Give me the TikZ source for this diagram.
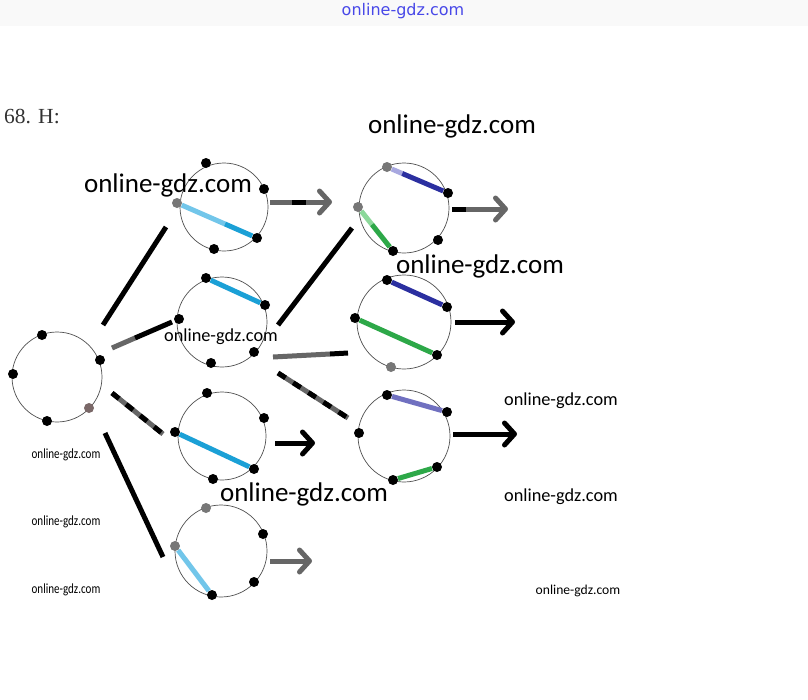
\documentclass[tikz,border=0pt]{standalone}
\usepackage{fontspec}
\setmainfont{Carlito}
\newfontfamily\serifcyr{Liberation Serif}
\newfontfamily\widesans{DejaVu Sans}
\usetikzlibrary{arrows.meta,calc}
\definecolor{ringc}{HTML}{505050}
\definecolor{dotgray}{HTML}{777777}
\definecolor{dotbrown}{HTML}{7A6868}
\definecolor{skyb}{HTML}{72C6EA}
\definecolor{cyanb}{HTML}{1BA0D6}
\definecolor{navyb}{HTML}{2B2FA0}
\definecolor{navyl}{HTML}{7070C0}
\definecolor{lavb}{HTML}{A8A8E0}
\definecolor{greenc}{HTML}{2DA848}
\definecolor{greenl}{HTML}{8CD89A}
\definecolor{linkgray}{HTML}{666666}
\definecolor{wmblue}{HTML}{4848E8}
\definecolor{bandc}{HTML}{F9F9F9}
\begin{document}
\begin{tikzpicture}[x=1pt,y=-1pt,
 ring/.style={circle,draw=ringc,line width=0.7pt,minimum size=#1,inner sep=0pt},
 ring/.default=90pt,
 bdot/.style={circle,fill=black,minimum size=10pt,inner sep=0pt},
 gdot/.style={circle,fill=dotgray,minimum size=10pt,inner sep=0pt},
 brdot/.style={circle,fill=dotbrown,minimum size=10pt,inner sep=0pt},
 chord/.style={line width=5pt,draw=#1},
 link/.style={line width=5pt,draw=black},
 glink/.style={line width=5pt,draw=linkgray},
 dlink/.style={line width=5pt,draw=black,dash pattern=on 9pt off 9pt},
 arr/.style={line width=5pt,line join=round,-{Straight Barb[length=10pt,width=22pt,round]}},
 wm/.style={font=\fontsize{#1}{#1}\selectfont,inner sep=0pt,text=black},
]
\useasboundingbox (0,0) rectangle (808,699);
\fill[white] (0,0) rectangle (808,699);
\fill[bandc] (0,0) rectangle (808,26);

% rings
\node[ring=90pt] (L0) at (57,377) {};
\node[ring=88pt] (A1) at (224,207) {};
\node[ring=90pt] (A2) at (222,322) {};
\node[ring=88pt] (A3) at (222,436) {};
\node[ring=92pt] (A4) at (221,551) {};
\node[ring=90pt] (B1) at (404,208) {};
\node[ring=94pt] (B2) at (404,322) {};
\node[ring=92pt] (B3) at (404,436) {};

% connector end points
\coordinate (l1s) at (103,325); \coordinate (l1e) at (166,227);
\coordinate (l2s) at (112,348); \coordinate (l2m) at (135,338); \coordinate (l2e) at (172,322);
\coordinate (l3s) at (112,393); \coordinate (l3e) at (163,434);
\coordinate (l4s) at (105,433); \coordinate (l4e) at (163,557);
\coordinate (m1s) at (278,325); \coordinate (m1e) at (352,228);
\coordinate (m2s) at (273,357); \coordinate (m2m) at (330,354); \coordinate (m2e) at (348,353);
\coordinate (m3s) at (278,373); \coordinate (m3e) at (348,418);

\draw[link] (l1s) -- (l1e);
\draw[glink] (l2s) -- (l2m);
\draw[link] (l2m) -- (l2e);
\draw[glink] (l3s) -- (l3e);
\draw[dlink] (l3s) -- (l3e);
\draw[link] (l4s) -- (l4e);
\draw[link] (m1s) -- (m1e);
\draw[glink] (m2s) -- (m2m);
\draw[link] (m2m) -- (m2e);
\draw[glink] (m3s) -- (m3e);
\draw[dlink] (m3s) -- (m3e);

% output arrows
\coordinate (a1s) at (270,202); \coordinate (a1e) at (332,202);
\coordinate (a3s) at (275,443); \coordinate (a3e) at (315,443);
\coordinate (a4s) at (270,561); \coordinate (a4e) at (312,561);
\coordinate (b1s) at (452,209); \coordinate (b1e) at (508,209);
\coordinate (b2s) at (455,322); \coordinate (b2e) at (515,322);
\coordinate (b3s) at (453,434); \coordinate (b3e) at (517,434);
\draw[arr,draw=linkgray] (a1s) -- (a1e);
\draw[line width=5pt,black] (292,202) -- (306,202);
\draw[arr,draw=black] (a3s) -- (a3e);
\draw[arr,draw=linkgray] (a4s) -- (a4e);
\draw[arr,draw=linkgray] (b1s) -- (b1e);
\draw[line width=5pt,black] (b1s) -- (466,209);
\draw[arr,draw=black] (b2s) -- (b2e);
\draw[arr,draw=black] (b3s) -- (b3e);

% L0 dots
\node[bdot] (L0a) at (42,335) {};
\node[bdot] (L0b) at (13,374) {};
\node[bdot] (L0c) at (100,360) {};
\node[brdot] (L0d) at (89,408) {};
\node[bdot] (L0e) at (47,421) {};

% A1
\node[bdot] (A1a) at (206,163) {};
\node[bdot] (A1b) at (264,189) {};
\node[gdot] (A1c) at (177,203) {};
\node[bdot] (A1d) at (257,238) {};
\node[bdot] (A1e) at (214,249) {};
\coordinate (A1m) at ($(A1c)!0.6!(A1d)$);
\draw[chord=skyb] (A1c) -- (A1m);
\draw[chord=cyanb] (A1m) -- (A1d);

% A2
\node[bdot] (A2a) at (206,278) {};
\node[bdot] (A2b) at (265,305) {};
\node[bdot] (A2c) at (179,319) {};
\node[bdot] (A2d) at (254,352) {};
\node[bdot] (A2e) at (211,363) {};
\draw[chord=cyanb] (A2a) -- (A2b);

% A3
\node[bdot] (A3a) at (207,393) {};
\node[bdot] (A3b) at (264,418) {};
\node[bdot] (A3c) at (175,432) {};
\node[bdot] (A3d) at (254,469) {};
\node[bdot] (A3e) at (213,479) {};
\draw[chord=cyanb] (A3c) -- (A3d);

% A4
\node[gdot] (A4a) at (206,508) {};
\node[bdot] (A4b) at (263,534) {};
\node[gdot] (A4c) at (175,546) {};
\node[bdot] (A4d) at (254,582) {};
\node[bdot] (A4e) at (212,595) {};
\draw[chord=skyb] (A4c) -- (A4e);

% B1
\node[gdot] (B1a) at (387,167) {};
\node[bdot] (B1b) at (448,193) {};
\node[gdot] (B1c) at (358,207) {};
\node[bdot] (B1d) at (393,251) {};
\node[bdot] (B1e) at (438,240) {};
\coordinate (B1m) at ($(B1a)!0.25!(B1b)$);
\coordinate (B1n) at ($(B1c)!0.4!(B1d)$);
\draw[chord=lavb] (B1a) -- (B1m);
\draw[chord=navyb] (B1m) -- (B1b);
\draw[chord=greenl] (B1c) -- (B1n);
\draw[chord=greenc] (B1n) -- (B1d);

% B2
\node[bdot] (B2a) at (387,280) {};
\node[bdot] (B2b) at (447,307) {};
\node[bdot] (B2c) at (355,318) {};
\node[bdot] (B2d) at (437,355) {};
\node[gdot] (B2e) at (391,367) {};
\draw[chord=navyb] (B2a) -- (B2b);
\draw[chord=greenc] (B2c) -- (B2d);

% B3
\node[bdot] (B3a) at (387,395) {};
\node[bdot] (B3b) at (447,412) {};
\node[bdot] (B3c) at (359,433) {};
\node[bdot] (B3d) at (437,467) {};
\node[bdot] (B3e) at (393,480) {};
\draw[chord=navyl] (B3a) -- (B3b);
\draw[chord=greenc] (B3e) -- (B3d);

% title and watermark texts
\node[anchor=west,inner sep=0pt,text={rgb,255:red,50;green,50;blue,50},font=\serifcyr\fontsize{21.5}{21.5}\selectfont] (title) at (4,117) {68. Н:};
\node[inner sep=0pt,text=wmblue,font=\widesans\fontsize{16}{16}\selectfont] (wtop) at (403,11) {online-gdz.com};
\node[wm=27] (w1) at (452,126) {online-gdz.com};
\node[wm=27] (w2) at (168,185) {online-gdz.com};
\node[wm=27] (w3) at (480,266) {online-gdz.com};
\node[wm=18.3] (w4) at (221,337) {online-gdz.com};
\node[wm=18.3] (w5) at (561,401) {online-gdz.com};
\node[wm=27] (w6) at (304,494) {online-gdz.com};
\node[wm=18.3] (w7) at (561,497) {online-gdz.com};
\node[wm=14,xscale=0.79] (s1) at (66,455) {online-gdz.com};
\node[wm=14,xscale=0.79] (s2) at (66,522) {online-gdz.com};
\node[wm=14,xscale=0.79] (s3) at (66,590) {online-gdz.com};
\node[wm=13.6] (s4) at (578,591) {online-gdz.com};
\end{tikzpicture}
\end{document}
